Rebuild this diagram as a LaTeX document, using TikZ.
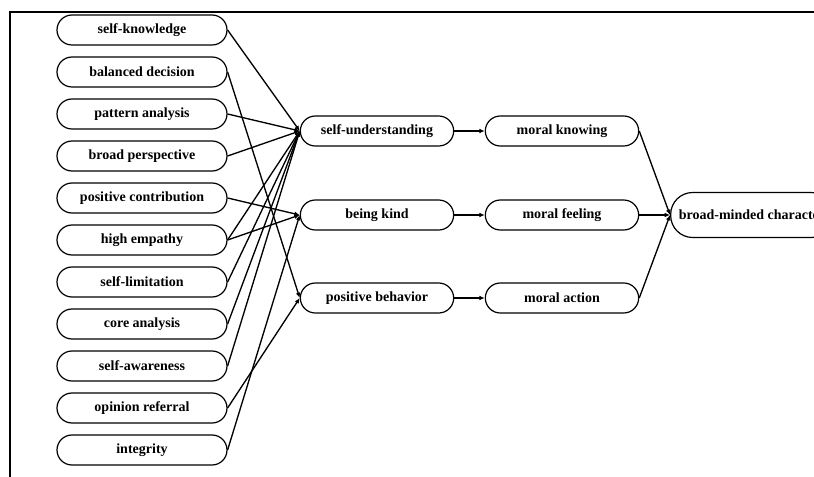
\documentclass[tikz,border=0pt]{standalone}
\usepackage{fontspec}
\setmainfont{Liberation Serif}
\usetikzlibrary{arrows.meta}
\tikzset{
	pill/.style={draw, line width=0.9pt, rounded corners=11.25pt, inner sep=0pt, minimum height=22.5pt, font=\fontsize{10.5}{12}\selectfont\bfseries},
	trait/.style={pill, minimum width=127.5pt},
	stage/.style={pill, minimum width=115pt},
	link/.style={line width=1pt, -{Latex[length=4pt,width=3.5pt]}}
}

\begin{document}
\begin{tikzpicture}[x=0.75pt, y=-0.75pt]
		%%%%% START %%%%%
		\useasboundingbox (0,0) rectangle (814,477);
		\clip (0,0) rectangle (814,477);
		
		\draw[line width=1.2pt] (10,12) rectangle (860,500);
		
		% traits
		\node[trait] (know) at (142,30) {self-knowledge};
		\node[trait] (decision) at (142,72) {balanced decision};
		\node[trait] (pattern) at (142,114) {pattern analysis};
		\node[trait] (broad) at (142,156) {broad perspective};
		\node[trait] (contrib) at (142,198) {positive contribution};
		\node[trait] (empathy) at (142,240) {high empathy};
		\node[trait] (limit) at (142,282) {self-limitation};
		\node[trait] (core) at (142,324) {core analysis};
		\node[trait] (aware) at (142,366) {self-awareness};
		\node[trait] (opinion) at (142,408) {opinion referral};
		\node[trait] (integ) at (142,450) {integrity};
		
		% middle
		\node[stage] (underst) at (377,131) {self-understanding};
		\node[stage] (kind) at (377,215) {being kind};
		\node[stage] (behav) at (377,298) {positive behavior};
		
		\node[stage] (knowing) at (562,131) {moral knowing};
		\node[stage] (feeling) at (562,215) {moral feeling};
		\node[stage] (action) at (562,298) {moral action};
		
		\node[pill, rounded corners=16.5pt, minimum height=33.75pt, minimum width=122pt] (charact) at (752,215) {broad-minded character};
		
		% traits to middle
		\draw[link] (know.east) -- (underst.west);
		\draw[link] (pattern.east) -- (underst.west);
		\draw[link] (broad.east) -- (underst.west);
		\draw[link] (empathy.east) -- (underst.west);
		\draw[link] (limit.east) -- (underst.west);
		\draw[link] (core.east) -- (underst.west);
		\draw[link] (aware.east) -- (underst.west);
		
		\draw[link] (contrib.east) -- (kind.west);
		\draw[link] (empathy.east) -- (kind.west);
		\draw[link] (integ.east) -- (kind.west);
		
		\draw[link] (decision.east) -- (behav.west);
		\draw[link] (opinion.east) -- (behav.west);
		
		% middle to moral
		\draw[link] (underst) -- (knowing);
		\draw[link] (kind) -- (feeling);
		\draw[link] (behav) -- (action);
		
		\draw[link] (knowing.east) -- (charact.west);
		\draw[link] (feeling.east) -- (charact.west);
		\draw[link] (action.east) -- (charact.west);
		
		%%%%% END %%%%%
\end{tikzpicture}
\end{document}
